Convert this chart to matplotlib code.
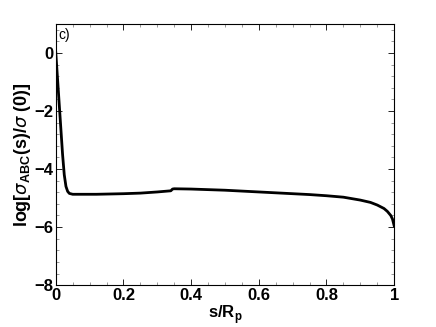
import numpy as np
import matplotlib.pyplot as plt
from matplotlib.ticker import MultipleLocator

plt.rcParams['font.family'] = ['Liberation Sans', 'DejaVu Sans']
plt.rcParams['mathtext.fontset'] = 'custom'
plt.rcParams['mathtext.rm'] = 'Liberation Sans'
plt.rcParams['mathtext.bf'] = 'Liberation Sans:bold'

# s/R_p and log[sigma_ABC(s)/sigma(0)]
s = [0, 0.004, 0.008, 0.012, 0.016, 0.02, 0.025, 0.03, 0.035, 0.04, 0.05,
     0.08, 0.12, 0.16, 0.2, 0.25, 0.3, 0.34, 0.345, 0.35, 0.4, 0.45, 0.5,
     0.55, 0.6, 0.65, 0.7, 0.75, 0.8, 0.85, 0.9, 0.93, 0.95, 0.97, 0.98,
     0.99, 0.995, 1.0]
log_sigma = [0, -0.7, -1.4, -2.1, -2.8, -3.5, -4.2, -4.6, -4.77, -4.84, -4.87,
             -4.87, -4.87, -4.86, -4.85, -4.83, -4.79, -4.75, -4.69, -4.68,
             -4.69, -4.71, -4.73, -4.76, -4.79, -4.82, -4.85, -4.88, -4.92,
             -4.97, -5.07, -5.15, -5.24, -5.36, -5.46, -5.6, -5.72, -5.95]

xticks = [0, 0.2, 0.4, 0.6, 0.8, 1]
xticklabels = ['0', '0.2', '0.4', '0.6', '0.8', '1']
yticks = [-8, -6, -4, -2, 0]
yticklabels = ['\u22128', '\u22126', '\u22124', '\u22122', '0']

fig = plt.figure(figsize=(4.36, 3.27), dpi=100)
ax = fig.add_axes([0.128, 0.128, 0.776, 0.799])

ax.plot(s, log_sigma, color='black', lw=2.0)

ax.set_xlim(0, 1)
ax.set_ylim(-8, 1)
ax.set_xticks(xticks)
ax.set_xticklabels(xticklabels)
ax.set_yticks(yticks)
ax.set_yticklabels(yticklabels)
ax.xaxis.set_minor_locator(MultipleLocator(0.05))
ax.yaxis.set_minor_locator(MultipleLocator(0.4))
ax.tick_params(which='both', direction='in', top=True, right=True,
               width=0.6, labelsize=12, pad=2)
ax.tick_params(which='major', length=4)
ax.tick_params(which='minor', length=2, color='#888888')
for lab in ax.get_xticklabels() + ax.get_yticklabels():
    lab.set_fontweight('bold')
for sp in ax.spines.values():
    sp.set_linewidth(0.8)

ax.set_xlabel(r's/R$_\mathbf{p}$', fontsize=12, fontweight='bold', labelpad=0)
ax.set_ylabel(r'log[$\sigma_{\mathbf{ABC}}$(s)/$\sigma$ (0)]', fontsize=13,
              fontweight='bold', labelpad=1)
ax.text(0.008, 0.985, 'c)', transform=ax.transAxes, fontsize=10,
        va='top', ha='left')

fig.savefig('out.png', dpi=100)
